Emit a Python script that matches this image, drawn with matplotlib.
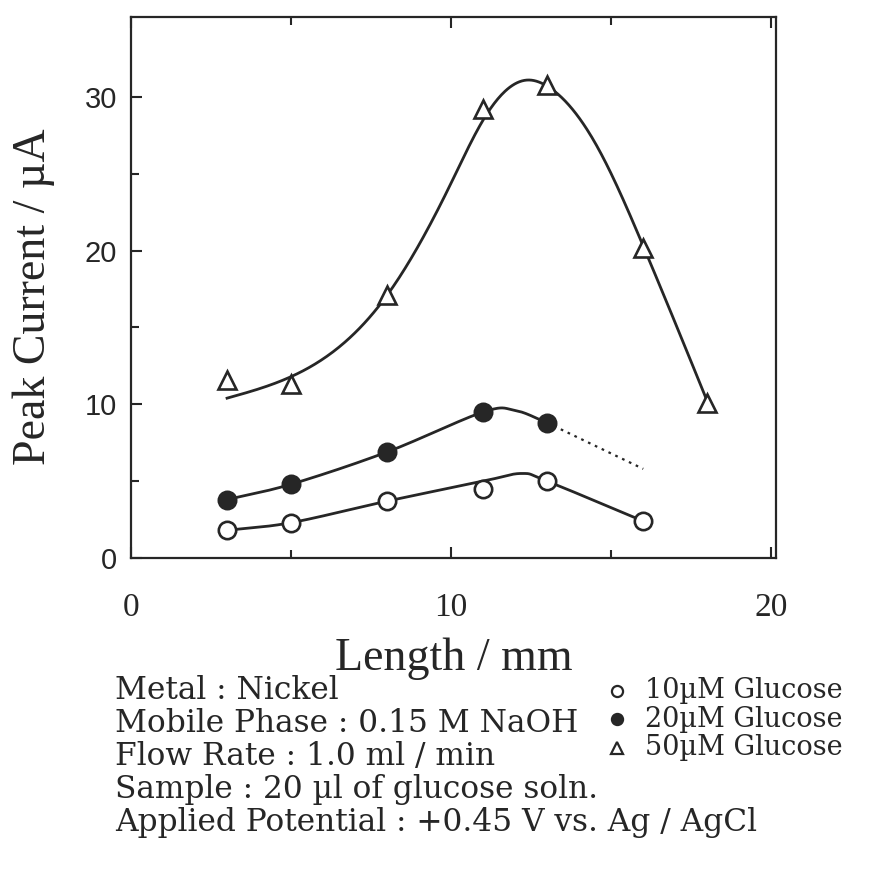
import numpy as np
import matplotlib
matplotlib.use("Agg")
import matplotlib.pyplot as plt
from matplotlib.lines import Line2D

# Measured peak currents (uA) vs. electrode length (mm)
length_10 = [3, 5, 8, 11, 13, 16]
current_10 = [1.8, 2.3, 3.7, 4.5, 5.0, 2.4]

length_20 = [3, 5, 8, 11, 13]
current_20 = [3.8, 4.8, 6.9, 9.5, 8.8]

length_50 = [3, 5, 8, 11, 13, 16, 18]
current_50 = [11.6, 11.3, 17.1, 29.2, 30.8, 20.2, 10.1]

# Hand-fitted guide curves (knots)
fit50_x = [3, 5, 8, 10, 11, 12.4, 13, 14.5, 16, 17, 18]
fit50_y = [10.4, 11.8, 17.1, 24.4, 28.5, 31.1, 30.7, 27.0, 20.3, 15.3, 10.2]

fit20_x = [3, 5, 8, 11, 12, 13]
fit20_y = [3.8, 4.8, 6.9, 9.5, 9.6, 8.8]
dash20_x = [13, 16]
dash20_y = [8.8, 5.8]

fit10_x = [3, 5, 8, 11, 12.2, 13, 16]
fit10_y = [1.8, 2.3, 3.7, 5.0, 5.5, 5.0, 2.4]

x_ticks = [0, 10, 20]
y_ticks = [0, 10, 20, 30]

conditions = [
    "Metal : Nickel",
    "Mobile Phase : 0.15 M NaOH",
    "Flow Rate : 1.0 ml / min",
    "Sample : 20 \u00b5l of glucose soln.",
    "Applied Potential : +0.45 V vs. Ag / AgCl",
]
legend_labels = ["10\u00b5M Glucose", "20\u00b5M Glucose", "50\u00b5M Glucose"]

INK = "#262626"
SERIF = "Liberation Serif"
WIDE_SERIF = "DejaVu Serif"
SANS = "Liberation Sans"


def catmull_rom(xs, ys, n=40):
    """Smooth curve through the knots (uniform Catmull-Rom)."""
    p = np.column_stack([xs, ys]).astype(float)
    p = np.vstack([2 * p[0] - p[1], p, 2 * p[-1] - p[-2]])
    out = []
    t = np.linspace(0, 1, n)[:, None]
    for i in range(1, len(p) - 2):
        p0, p1, p2, p3 = p[i - 1], p[i], p[i + 1], p[i + 2]
        seg = 0.5 * ((2 * p1) + (-p0 + p2) * t + (2 * p0 - 5 * p1 + 4 * p2 - p3) * t ** 2
                     + (-p0 + 3 * p1 - 3 * p2 + p3) * t ** 3)
        out.append(seg if i == 1 else seg[1:])
    c = np.vstack(out)
    return c[:, 0], c[:, 1]


def natural_spline(xs, ys, n=400):
    """Natural cubic spline y(x) through the knots."""
    x = np.asarray(xs, float)
    y = np.asarray(ys, float)
    k = len(x)
    h = np.diff(x)
    A = np.zeros((k, k))
    b = np.zeros(k)
    A[0, 0] = A[-1, -1] = 1.0
    for i in range(1, k - 1):
        A[i, i - 1] = h[i - 1]
        A[i, i] = 2 * (h[i - 1] + h[i])
        A[i, i + 1] = h[i]
        b[i] = 6 * ((y[i + 1] - y[i]) / h[i] - (y[i] - y[i - 1]) / h[i - 1])
    M = np.linalg.solve(A, b)
    xx = np.linspace(x[0], x[-1], n)
    j = np.clip(np.searchsorted(x, xx) - 1, 0, k - 2)
    dx1 = x[j + 1] - xx
    dx0 = xx - x[j]
    hj = h[j]
    yy = (M[j] * dx1 ** 3 + M[j + 1] * dx0 ** 3) / (6 * hj) \
        + (y[j] / hj - M[j] * hj / 6) * dx1 + (y[j + 1] / hj - M[j + 1] * hj / 6) * dx0
    return xx, yy


fig = plt.figure(figsize=(8.77, 8.76), dpi=100)
ax = fig.add_axes([0.1494, 0.363, 0.7355, 0.6176])

lw = 2.0
cx, cy = natural_spline(fit50_x, fit50_y)
ax.plot(cx, cy, color=INK, lw=lw, zorder=2)
cx, cy = catmull_rom(fit20_x, fit20_y)
ax.plot(cx, cy, color=INK, lw=lw, zorder=2)
ax.plot(dash20_x, dash20_y, color=INK, lw=1.6, ls=(0, (1.2, 2.2)), zorder=2)
cx, cy = catmull_rom(fit10_x, fit10_y)
ax.plot(cx, cy, color=INK, lw=lw, zorder=2)

ax.plot(length_10, current_10, "o", ms=12.5, mfc="white", mec=INK, mew=1.9, ls="none", zorder=3)
ax.plot(length_20, current_20, "o", ms=12.5, mfc=INK, mec=INK, mew=1.9, ls="none", zorder=3)
ax.plot(length_50, current_50, "^", ms=12.5, mfc="white", mec=INK, mew=1.9, ls="none", zorder=3)

ax.set_xlim(0, 20.15)
ax.set_ylim(0, 35.2)
ax.set_xticks(x_ticks)
ax.set_xticks([5, 15], minor=True)
ax.set_yticks(y_ticks)
ax.set_yticks([5, 15, 25], minor=True)
ax.tick_params(which="both", direction="in", top=True, right=False, color=INK, width=1.5)
ax.tick_params(which="major", length=8)
ax.tick_params(which="minor", length=6)
ax.tick_params(axis="x", pad=25)
ax.tick_params(axis="y", pad=10)
for lab in ax.get_xticklabels():
    lab.set_fontfamily(SERIF)
    lab.set_fontsize(24)
    lab.set_color(INK)
for lab in ax.get_yticklabels():
    lab.set_fontfamily(SANS)
    lab.set_fontsize(21)
    lab.set_color(INK)
for s in ax.spines.values():
    s.set_color(INK)
    s.set_linewidth(1.6)

ax.set_xlabel("Length / mm", fontfamily=SERIF, fontsize=33, color=INK, labelpad=10)
ax.set_ylabel("Peak Current / \u00b5A", fontfamily=SERIF, fontsize=33, color=INK)
ax.yaxis.set_label_coords(-0.118, 0.483)

# Experimental conditions
y0 = 0.2115
dy = 0.0377
for i, line in enumerate(conditions):
    fig.text(0.131, y0 - i * dy, line, fontfamily=WIDE_SERIF, fontsize=22.5, color=INK, va="center")

# Key to the symbols
markers = [("o", "white"), ("o", INK), ("^", "white")]
ly0 = 0.2115
ldy = 0.0325
for i, ((m, fc), lab) in enumerate(zip(markers, legend_labels)):
    yy = ly0 - i * ldy
    fig.lines.append(Line2D([0.703], [yy], marker=m, ms=8, mfc=fc, mec=INK,
                            mew=1.6, ls="none", transform=fig.transFigure))
    fig.text(0.735, yy, lab, fontfamily=WIDE_SERIF, fontsize=19.5, color=INK, va="center")

fig.savefig("out.png", dpi=100, facecolor="white")
